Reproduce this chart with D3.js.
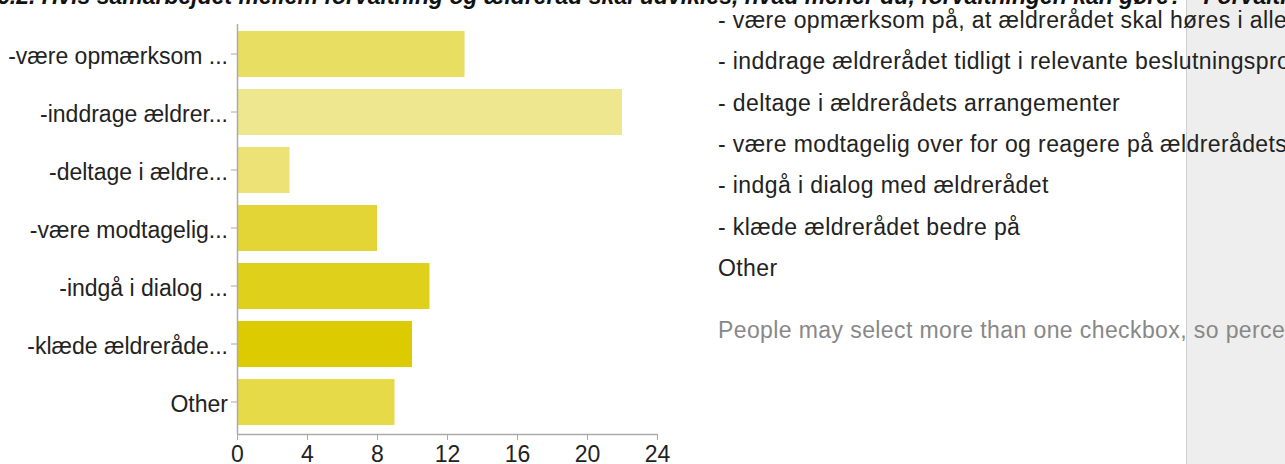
<!DOCTYPE html>
<html>
<head>
<meta charset="utf-8">
<script src="https://cdn.jsdelivr.net/npm/d3@7/dist/d3.min.js"></script>
<style>
  body { margin: 0; background: #fff; overflow: hidden; }
  svg { display: block; font-family: "Liberation Sans", Arial, sans-serif; }
</style>
</head>
<body>
<div id="chart"></div>
<script>
// answer labels (short, as on the axis) and counts
var labels = ["-være opmærksom ...", "-inddrage ældrer...", "-deltage i ældre...",
    "-være modtagelig...", "-indgå i dialog ...", "-klæde ældreråde...", "Other"];
var counts = [13, 22, 3, 8, 11, 10, 9];
var barColors = ["#e8de62", "#efe78f", "#ece276", "#e3d535", "#dfd11b", "#dccb00", "#e6da48"];
var xTicks = [0, 4, 8, 12, 16, 20, 24];

// full answer texts for the list on the right
var answers = [
    "- være opmærksom på, at ældrerådet skal høres i alle sager, der vedrører ældre",
    "- inddrage ældrerådet tidligt i relevante beslutningsprocesser",
    "- deltage i ældrerådets arrangementer",
    "- være modtagelig over for og reagere på ældrerådets henvendelser",
    "- indgå i dialog med ældrerådet",
    "- klæde ældrerådet bedre på",
    "Other"
];

var title = "6.2. Hvis samarbejdet mellem forvaltning og ældreråd skal udvikles, hvad mener du, forvaltningen kan gøre? - Forvaltningen kan:";
var note = "People may select more than one checkbox, so percentages may add up to more than 100%.";

var W = 1285, H = 464;

var svg = d3.select("#chart").append("svg")
    .attr("width", W)
    .attr("height", H);

// grey side panel
svg.append("rect")
    .attr("x", 1187).attr("y", 0)
    .attr("width", W - 1187).attr("height", H)
    .attr("fill", "#eeeeee");
svg.append("line")
    .attr("x1", 1186.5).attr("x2", 1186.5)
    .attr("y1", 0).attr("y2", H)
    .attr("stroke", "#cfcfcf");

// title, mostly scrolled off the top
svg.append("text")
    .attr("x", -3)
    .attr("y", 4)
    .style("font-size", "23px")
    .style("font-weight", "bold")
    .style("font-style", "italic")
    .attr("fill", "#111")
    .text(title);

var x = d3.scaleLinear()
    .domain([0, 24])
    .range([237, 657]);

var y = d3.scaleBand()
    .domain(labels)
    .range([25, 431])
    .paddingInner(12 / 58)
    .paddingOuter(6 / 58);

// bars
svg.selectAll("rect.bar")
    .data(counts)
    .enter()
    .append("rect")
    .attr("class", "bar")
    .attr("x", x(0))
    .attr("y", function(d, i) { return y(labels[i]); })
    .attr("width", function(d) { return x(d) - x(0); })
    .attr("height", y.bandwidth())
    .attr("fill", function(d, i) { return barColors[i]; });

// y axis
var yAxis = d3.axisLeft(y)
    .tickSize(6)
    .tickPadding(3)
    .tickSizeOuter(0);

var gy = svg.append("g")
    .attr("transform", "translate(" + x(0) + ",0)")
    .call(yAxis);
gy.select(".domain").remove();
gy.selectAll(".tick line").attr("stroke", "#aaa");
gy.selectAll(".tick text")
    .attr("dy", "0.45em")
    .style("font-size", "23px")
    .style("font-family", "'Liberation Sans', Arial, sans-serif")
    .attr("fill", "#222");

svg.append("line")
    .attr("x1", x(0) + 0.5).attr("x2", x(0) + 0.5)
    .attr("y1", 24).attr("y2", 434)
    .attr("stroke", "#aaa")
    .attr("stroke-width", 1.5);

// x axis
var xAxis = d3.axisBottom(x)
    .tickValues(xTicks)
    .tickSize(6)
    .tickSizeOuter(0);

var gx = svg.append("g")
    .attr("transform", "translate(0,434)")
    .call(xAxis);
gx.select(".domain").attr("stroke", "#aaa").attr("stroke-width", 1.5);
gx.selectAll(".tick line").attr("stroke", "#aaa");
gx.selectAll(".tick text")
    .attr("y", 28)
    .attr("dy", 0)
    .style("font-size", "23px")
    .style("font-family", "'Liberation Sans', Arial, sans-serif")
    .attr("fill", "#222");

// list of answers on the right
svg.selectAll("text.answer")
    .data(answers)
    .enter()
    .append("text")
    .attr("class", "answer")
    .attr("x", 718)
    .attr("y", function(d, i) { return 28 + i * 41.3; })
    .style("font-size", "23px")
    .style("letter-spacing", "0.4px")
    .attr("fill", "#222")
    .text(function(d) { return d; });

svg.append("text")
    .attr("x", 718)
    .attr("y", 338)
    .style("font-size", "23px")
    .style("letter-spacing", "0.4px")
    .attr("fill", "#888")
    .text(note);
</script>
</body>
</html>
